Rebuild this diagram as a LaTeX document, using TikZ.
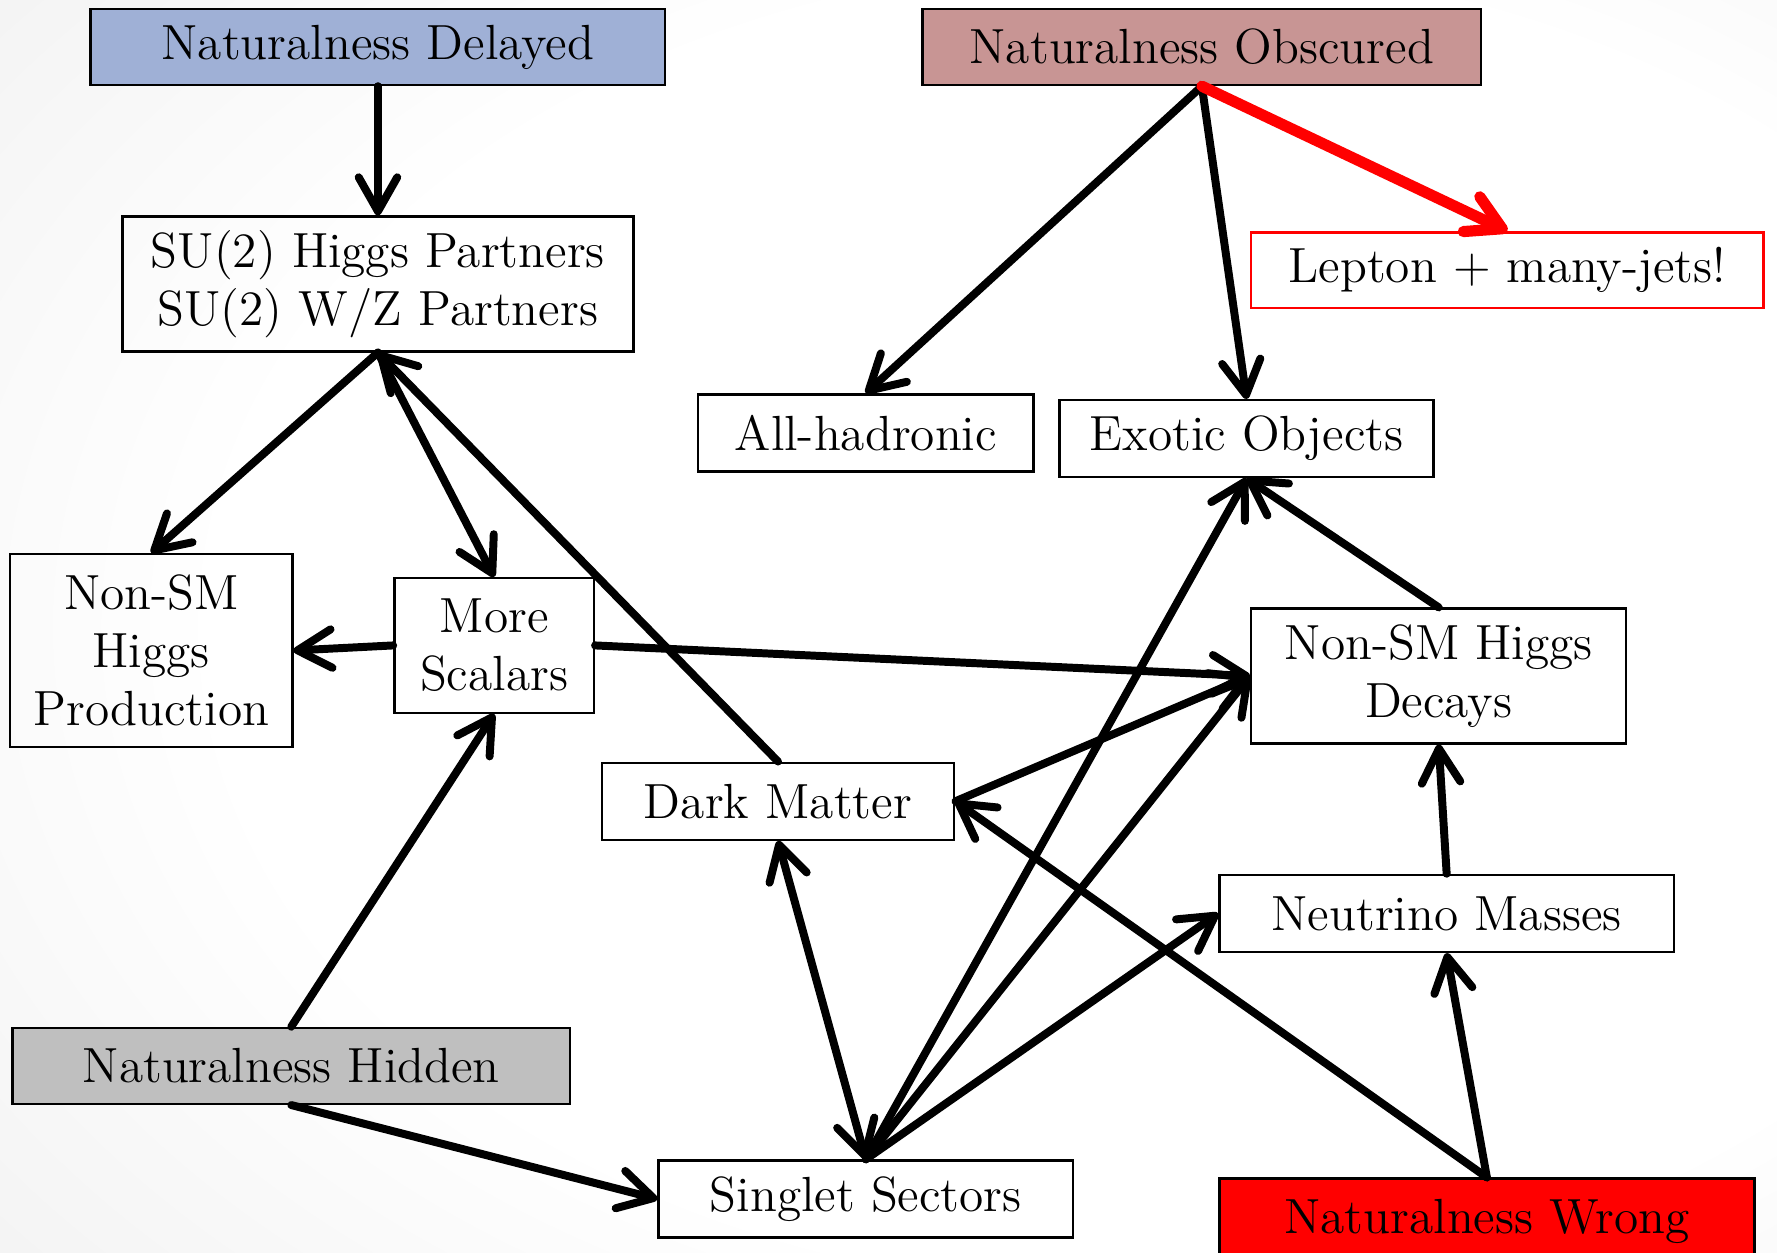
\documentclass[tikz,border=0pt]{standalone}
\usetikzlibrary{arrows.meta}

\definecolor{delayblue}{HTML}{9FB0D6}
\definecolor{obscurerose}{HTML}{C89594}
\definecolor{hiddengray}{HTML}{BFBFBF}

\pgfdeclareradialshading{slidebg}{\pgfpoint{0.4cm}{0cm}}{%
  color(0bp)=(white); color(26bp)=(white); color(50bp)=(black!8); color(72bp)=(black!15)}

\begin{document}
\begin{tikzpicture}[
  box/.style={
    draw,
    line width=0.6pt,
    align=center,
    inner sep=0pt,
    font=\fontsize{12.4}{14.6}\selectfont
  },
  arrow/.style={
    -{Straight Barb[length=3mm, width=3.4mm, round]},
    line width=2pt,
    line cap=round
  },
  twoway/.style={
    {Straight Barb[length=3mm, width=3.4mm, round]}-{Straight Barb[length=3mm, width=3.4mm, round]},
    line width=2pt,
    line cap=round
  },
  redarrow/.style={
    arrow,
    red,
    line width=2.8pt
  }
]

% --------------------
% Background
% --------------------
\useasboundingbox (0,0) rectangle (15.68,-11.05);
\shade[shading=slidebg] (0,0) rectangle (15.68,-11.05);

% --------------------
% Scenarios
% --------------------
\node[box, fill=delayblue, minimum width=5.07cm, minimum height=0.67cm] (delayed) at (3.335,-0.415) {Naturalness Delayed};
\node[box, fill=obscurerose, minimum width=4.93cm, minimum height=0.67cm] (obscured) at (10.605,-0.415) {Naturalness Obscured};
\node[box, fill=hiddengray, minimum width=4.92cm, minimum height=0.67cm] (hidden) at (2.57,-9.405) {Naturalness Hidden};
\node[box, fill=red, minimum width=4.72cm, minimum height=0.75cm] (wrong) at (13.12,-10.775) {Naturalness Wrong};

% --------------------
% Signatures
% --------------------
\node[box, minimum width=4.51cm, minimum height=1.19cm] (su2) at (3.335,-2.505)
{SU(2) Higgs Partners\\SU(2) W/Z Partners};
\node[box, draw=red, minimum width=4.52cm, minimum height=0.67cm] (lepton) at (13.30,-2.385) {Lepton + many-jets!};
\node[box, minimum width=2.96cm, minimum height=0.68cm] (hadronic) at (7.64,-3.82) {All-hadronic};
\node[box, minimum width=3.30cm, minimum height=0.68cm] (exotic) at (11.00,-3.87) {Exotic Objects};
\node[box, minimum width=2.49cm, minimum height=1.70cm] (production) at (1.335,-5.74)
{Non-SM\\Higgs\\Production};
\node[box, minimum width=1.76cm, minimum height=1.19cm] (scalars) at (4.36,-5.695) {More\\Scalars};
\node[box, minimum width=3.31cm, minimum height=1.19cm] (decays) at (12.695,-5.965)
{Non-SM Higgs\\Decays};
\node[box, minimum width=3.11cm, minimum height=0.68cm] (darkmatter) at (6.865,-7.07) {Dark Matter};
\node[box, minimum width=4.01cm, minimum height=0.68cm] (neutrino) at (12.765,-8.06) {Neutrino Masses};
\node[box, minimum width=3.66cm, minimum height=0.68cm] (singlet) at (7.64,-10.58) {Singlet Sectors};

% --------------------
% Arrows: top
% --------------------
\draw[arrow] (delayed.south) -- (su2.north);
\draw[arrow] (su2.south) -- (production.north);
\draw[arrow] (su2.south) -- (scalars.north);
\draw[arrow] (obscured.south) -- (hadronic.north);
\draw[arrow] (obscured.south) -- (exotic.north);
\draw[redarrow] (obscured.south) -- (lepton.north);

% --------------------
% Arrows: middle
% --------------------
\draw[arrow] (scalars.west) -- (production.east);
\draw[arrow] (scalars.east) -- (decays.west);
\draw[arrow] (darkmatter.north) -- (su2.south);
\draw[arrow] (darkmatter.east) -- (decays.west);
\draw[arrow] (decays.north) -- (exotic.south);
\draw[arrow] (neutrino.north) -- (decays.south);

% --------------------
% Arrows: bottom
% --------------------
\draw[arrow] (hidden.north) -- (scalars.south);
\draw[arrow] (hidden.south) -- (singlet.west);
\draw[twoway] (darkmatter.south) -- (singlet.north);
\draw[arrow] (singlet.north) -- (exotic.south);
\draw[arrow] (singlet.north) -- (decays.west);
\draw[arrow] (singlet.north) -- (neutrino.west);
\draw[arrow] (wrong.north) -- (darkmatter.east);
\draw[arrow] (wrong.north) -- (neutrino.south);

\end{tikzpicture}
\end{document}
